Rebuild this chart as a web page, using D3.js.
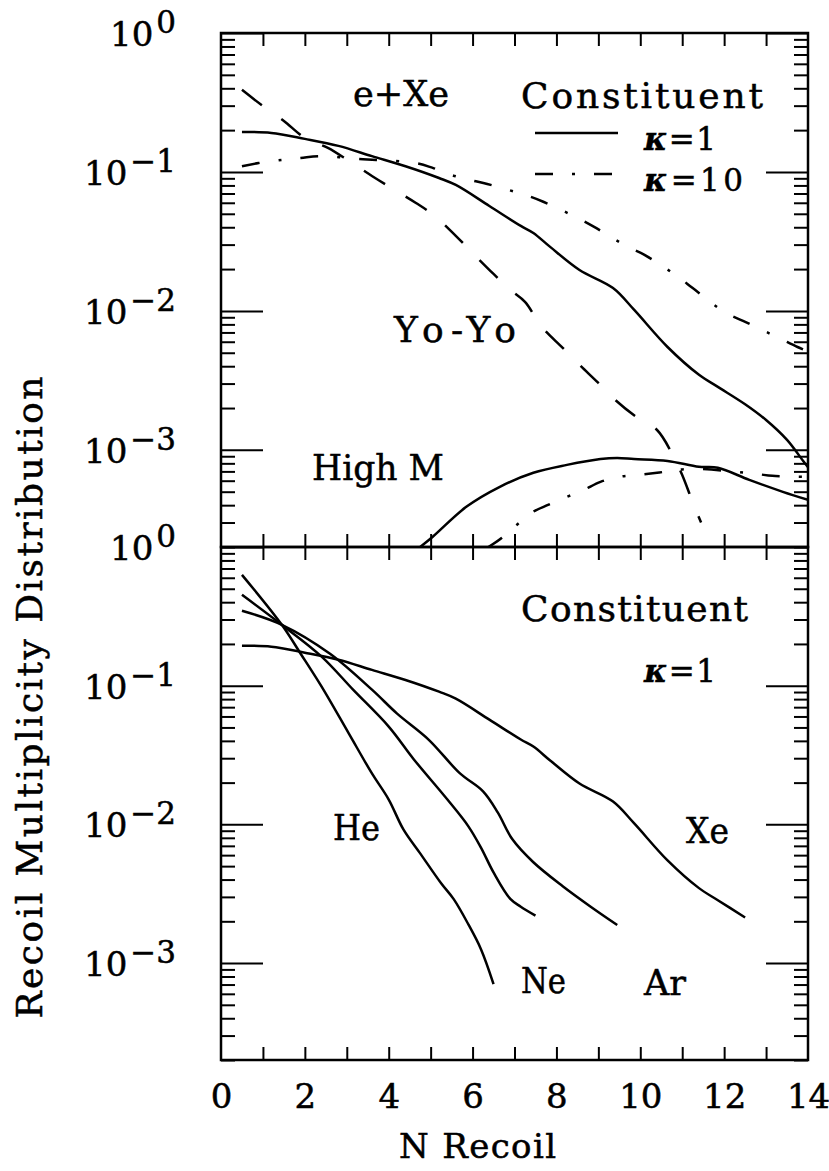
<!DOCTYPE html>
<html><head><meta charset="utf-8">
<script src="https://cdn.jsdelivr.net/npm/d3@7"></script>
<style>
body{margin:0;background:#fff}
svg{display:block}
text{font-family:"DejaVu Serif",serif;fill:#000;stroke:#000;stroke-width:0.5px}
</style>
</head><body>
<svg id="c" width="829" height="1171"></svg>
<script>
// ---------- data ----------
const xTickLabels = [0, 2, 4, 6, 8, 10, 12, 14];
const yDecades = [1, 0.1, 0.01, 0.001];
const yExponents = ["0", "\u22121", "\u22122", "\u22123"];

// Constituent, kappa=1, e+Xe (solid) — same curve as "Xe" in lower panel
const xeK1N = [0.5, 1.2, 2.0, 2.8, 3.6, 4.4, 5.2, 5.6, 6.4, 7.15, 7.45, 7.85, 8.55, 9.35, 9.85, 10.65, 11.4, 11.85, 12.5, 13.0, 13.5, 13.9, 14.0];
const xeK1V = [0.194, 0.191, 0.173, 0.154, 0.130, 0.110, 0.0905, 0.0806, 0.0569, 0.0409, 0.0364, 0.0289, 0.0197, 0.0146, 0.0102, 0.0055, 0.00347, 0.00284, 0.00213, 0.00164, 0.00118, 0.00082, 0.00075];
const xeBottomEnd = 12.5;

// Yo-Yo (dashed)
const yoyoN = [0.5, 1.0, 1.5, 2.0, 2.55, 3.05, 3.6, 4.1, 4.65, 5.1, 5.6, 6.0, 6.5, 6.9, 7.25, 7.65, 8.15, 8.55, 9.0, 9.4, 9.9, 10.4, 10.75, 11.0, 11.25, 11.45];
const yoyoV = [0.39, 0.298, 0.233, 0.176, 0.149, 0.120, 0.0936, 0.0755, 0.0598, 0.0482, 0.0347, 0.0261, 0.01845, 0.01416, 0.01161, 0.00767, 0.00542, 0.00409, 0.00303, 0.00229, 0.00173, 0.00139, 0.00095, 0.00066, 0.00042, 0.0003];

// Constituent, kappa=10 (dash-dot)
const xeK10N = [0.5, 0.9, 1.45, 1.9, 2.35, 3.3, 3.7, 4.65, 5.05, 5.5, 5.95, 6.35, 6.85, 7.25, 7.7, 8.5, 8.9, 9.7, 10.1, 10.9, 11.25, 12.0, 12.45, 13.3, 13.75, 14.0];
const xeK10V = [0.110, 0.116, 0.122, 0.126, 0.130, 0.124, 0.122, 0.116, 0.107, 0.095, 0.0875, 0.082, 0.0743, 0.0684, 0.0608, 0.0467, 0.0402, 0.0289, 0.0253, 0.0176, 0.0146, 0.00984, 0.00848, 0.0064, 0.0055, 0.0051];

// High M, kappa=1 (solid)
const highMK1N = [4.75, 5.05, 5.85, 6.65, 7.45, 8.25, 9.05, 9.45, 9.85, 10.65, 11.4, 11.85, 12.6, 13.4, 14.0];
const highMK1V = [2.0e-4, 2.37e-4, 3.89e-4, 5.42e-4, 6.84e-4, 7.8e-4, 8.6e-4, 8.75e-4, 8.6e-4, 8.33e-4, 7.55e-4, 7.43e-4, 6.08e-4, 4.99e-4, 4.37e-4];

// High M, kappa=10 (dash-dot)
const highMK10N = [6.35, 6.7, 7.05, 7.4, 7.8, 8.25, 8.65, 9.05, 9.5, 9.95, 10.4, 11.2, 12.75, 13.15, 14.0];
const highMK10V = [1.97e-4, 2.33e-4, 2.88e-4, 3.52e-4, 4.02e-4, 4.59e-4, 5.15e-4, 5.89e-4, 6.4e-4, 6.61e-4, 6.84e-4, 7.3e-4, 6.72e-4, 6.5e-4, 6.4e-4];

// Lower panel, Constituent kappa=1
const heN = [0.5, 1.45, 1.9, 2.4, 3.05, 3.6, 4.0, 4.35, 4.75, 5.25, 5.55, 5.9, 6.2, 6.5];
const heV = [0.63, 0.275, 0.170, 0.0984, 0.0451, 0.0233, 0.0151, 0.0092, 0.00618, 0.00376, 0.00289, 0.0019, 0.00126, 0.000706];
const neN = [0.5, 1.45, 2.4, 3.15, 4.0, 4.6, 5.4, 5.9, 6.2, 6.5, 6.9, 7.15, 7.5];
const neV = [0.452, 0.275, 0.162, 0.0936, 0.0507, 0.0294, 0.0151, 0.00968, 0.0068, 0.0045, 0.0029, 0.00255, 0.0022];
const arN = [0.5, 1.45, 2.6, 3.6, 4.2, 4.95, 5.7, 6.25, 6.6, 6.95, 7.45, 8.15, 8.8, 9.45];
const arV = [0.347, 0.275, 0.170, 0.0936, 0.0629, 0.0409, 0.0233, 0.0173, 0.0122, 0.0078, 0.00533, 0.00358, 0.00257, 0.00188];

// ---------- layout ----------
const L = 221, R = 808, T = 33, M = 547, B = 1060;
const svg = d3.select("#c");
svg.append("rect").attr("width", 829).attr("height", 1171).attr("fill", "#fff");

const x = d3.scaleLinear().domain([0, 14]).range([L, R]);
const yTop = d3.scaleLog().domain([2e-4, 1]).range([M, T]);
const yBot = d3.scaleLog().domain([2e-4, 1]).range([B, M]);

const zip = (a, b) => a.map((v, i) => [v, b[i]]);

const defs = svg.append("defs");
defs.append("clipPath").attr("id", "clipTop").append("rect")
  .attr("x", L).attr("y", T).attr("width", R - L).attr("height", M - T);
defs.append("clipPath").attr("id", "clipBot").append("rect")
  .attr("x", L).attr("y", M).attr("width", R - L).attr("height", B - M);

const majors = yDecades;
const minors = [];
[-4, -3, -2, -1].forEach(k => { for (let m = 2; m <= 9; m++) { const v = m * Math.pow(10, k); if (v >= 2e-4 - 1e-12) minors.push(v); } });
const xMinor = d3.range(1, 14);

function styleAxis(g) {
  g.select(".domain").remove();
  g.selectAll("line").attr("stroke", "#000").attr("stroke-width", 2);
}

function yAxes(y) {
  svg.append("g").attr("transform", `translate(${L},0)`)
    .call(d3.axisLeft(y).tickValues(majors).tickSize(-42).tickFormat("")).call(styleAxis);
  svg.append("g").attr("transform", `translate(${L},0)`)
    .call(d3.axisLeft(y).tickValues(minors).tickSize(-14).tickFormat("")).call(styleAxis);
  svg.append("g").attr("transform", `translate(${R},0)`)
    .call(d3.axisRight(y).tickValues(majors).tickSize(-42).tickFormat("")).call(styleAxis);
  svg.append("g").attr("transform", `translate(${R},0)`)
    .call(d3.axisRight(y).tickValues(minors).tickSize(-14).tickFormat("")).call(styleAxis);
  yDecades.forEach((v, i) => {
    const t = svg.append("text").attr("x", 176).attr("y", y(v) + 13)
      .attr("text-anchor", "end").attr("font-size", 34).text("10");
    t.append("tspan").attr("dx", 3).attr("dy", -13).attr("font-size", 31).text(yExponents[i]);
  });
}
yAxes(yTop);
yAxes(yBot);

svg.append("g").attr("transform", `translate(0,${T})`)
  .call(d3.axisTop(x).tickValues(xMinor).tickSize(-13).tickFormat("")).call(styleAxis);
svg.append("g").attr("transform", `translate(0,${M})`)
  .call(d3.axisBottom(x).tickValues(xMinor).tickSize(-13).tickFormat("")).call(styleAxis);
svg.append("g").attr("transform", `translate(0,${M})`)
  .call(d3.axisTop(x).tickValues(xMinor).tickSize(-13).tickFormat("")).call(styleAxis);
svg.append("g").attr("transform", `translate(0,${B})`)
  .call(d3.axisBottom(x).tickValues(xMinor).tickSize(-13).tickFormat("")).call(styleAxis);
const xl = svg.append("g").attr("transform", `translate(0,${B})`)
  .call(d3.axisBottom(x).tickValues(xTickLabels).tickSize(0).tickPadding(24).tickFormat(d3.format("d")));
xl.select(".domain").remove();
xl.attr("font-family", null).attr("font-size", null);
xl.selectAll("text").attr("font-size", 34).attr("fill", "#000");

[[T, M], [M, B]].forEach(([a, b]) => {
  svg.append("rect").attr("x", L).attr("y", a).attr("width", R - L).attr("height", b - a)
    .attr("fill", "none").attr("stroke", "#000").attr("stroke-width", 2.5);
});

const DASH = "25,24";
const DASHDOT = "18,19,3,19";
function curve(y, clip, data, dash) {
  const line = d3.line().x(d => x(d[0])).y(d => y(d[1])).curve(d3.curveCatmullRom.alpha(0.5));
  svg.append("path").attr("clip-path", `url(#${clip})`).datum(data)
    .attr("d", line).attr("fill", "none").attr("stroke", "#000").attr("stroke-width", 2.5)
    .attr("stroke-dasharray", dash || null);
}
curve(yTop, "clipTop", zip(xeK1N, xeK1V));
curve(yTop, "clipTop", zip(yoyoN, yoyoV), DASH);
curve(yTop, "clipTop", zip(xeK10N, xeK10V), DASHDOT);
curve(yTop, "clipTop", zip(highMK1N, highMK1V));
curve(yTop, "clipTop", zip(highMK10N, highMK10V), DASHDOT);

curve(yBot, "clipBot", zip(xeK1N, xeK1V).filter(d => d[0] <= xeBottomEnd));
curve(yBot, "clipBot", zip(heN, heV));
curve(yBot, "clipBot", zip(neN, neV));
curve(yBot, "clipBot", zip(arN, arV));

svg.append("line").attr("x1", 535).attr("x2", 618).attr("y1", 133).attr("y2", 133)
  .attr("stroke", "#000").attr("stroke-width", 2.5);
svg.append("line").attr("x1", 535).attr("x2", 612).attr("y1", 174).attr("y2", 174)
  .attr("stroke", "#000").attr("stroke-width", 2.5).attr("stroke-dasharray", DASHDOT);

function fit(t, len) {
  const nat = t.node().getComputedTextLength();
  t.attr("textLength", len).attr("lengthAdjust", len > nat ? "spacing" : "spacingAndGlyphs");
}
function label(parts, x0, x1, base, size) {
  const t = svg.append("text").attr("x", x0).attr("y", base).attr("font-size", size);
  parts.forEach(p => {
    const s = t.append("tspan").text(p.t);
    if (p.k) s.attr("font-style", "italic").attr("font-weight", "bold");
  });
  fit(t, x1 - x0);
  return t;
}
label([{t: "e+Xe"}], 353, 449, 106, 36);
label([{t: "Constituent"}], 521, 763, 108, 36);
label([{t: "\u03ba", k: 1}, {t: "=1"}], 644, 716, 150, 31);
label([{t: "\u03ba", k: 1}, {t: "=10"}], 644, 743, 191, 31);
label([{t: "Yo-Yo"}], 394, 516, 342, 36);
label([{t: "High M"}], 312, 444, 480, 36);

label([{t: "Constituent"}], 521, 748, 621, 36);
label([{t: "\u03ba", k: 1}, {t: "=1"}], 644, 716, 682, 31);
label([{t: "He"}], 333, 380, 840, 36);
label([{t: "Xe"}], 686, 729, 843, 36);
label([{t: "Ne"}], 521, 566, 993, 36);
label([{t: "Ar"}], 644, 686, 995, 36);

label([{t: "N Recoil"}], 399, 556, 1158, 34);

const yt = svg.append("text").attr("transform", "translate(42,697.5) rotate(-90)")
  .attr("text-anchor", "middle").attr("font-size", 36)
  .text("Recoil Multiplicity Distribution");
fit(yt, 642);
</script>
</body></html>
